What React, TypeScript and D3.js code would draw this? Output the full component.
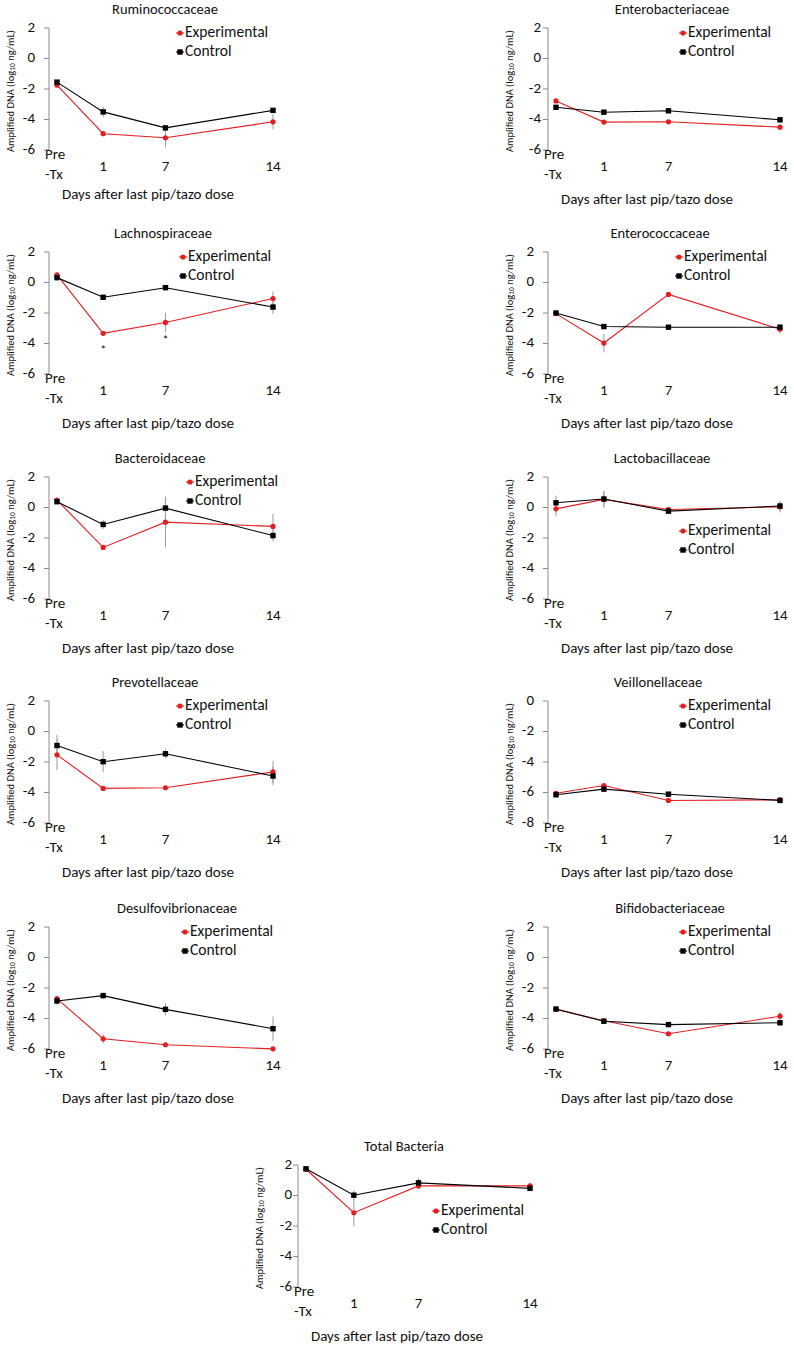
import React from "react";
import * as d3 from "d3";

// ---------- DATA ----------
const timeLabels = ["Pre|-Tx", "1", "7", "14"];
const timePositions = [0, 1, 2.35, 4.68];
const seriesNames = ["Experimental", "Control"];
const xAxisTitle = "Days after last pip/tazo dose";

const ruminoExp = [-1.75, -4.93, -5.2, -4.15];
const ruminoExpErr = [0.1, 0.15, 0.62, 0.5];
const ruminoCtrl = [-1.55, -3.5, -4.55, -3.4];
const ruminoCtrlErr = [0.1, 0.35, 0.1, 0.1];

const enteroExp = [-2.78, -4.17, -4.15, -4.5];
const enteroExpErr = [0.05, 0.05, 0.05, 0.05];
const enteroCtrl = [-3.2, -3.52, -3.43, -4.02];
const enteroCtrlErr = [0.05, 0.05, 0.15, 0.05];

const lachnoExp = [0.5, -3.33, -2.62, -1.05];
const lachnoExpErr = [0.15, 0.15, 0.63, 0.47];
const lachnoCtrl = [0.32, -0.97, -0.34, -1.61];
const lachnoCtrlErr = [0.2, 0.1, 0.05, 0.45];
const lachnoSignificant = [false, true, true, false];

const enterococExp = [-2.04, -3.97, -0.78, -3.06];
const enterococExpErr = [0.1, 0.6, 0.05, 0.3];
const enterococCtrl = [-2.0, -2.89, -2.93, -2.93];
const enterococCtrlErr = [0.1, 0.05, 0.05, 0.2];

const bacteroExp = [0.49, -2.62, -0.96, -1.24];
const bacteroExpErr = [0.1, 0.05, 1.65, 0.82];
const bacteroCtrl = [0.38, -1.11, -0.04, -1.84];
const bacteroCtrlErr = [0.1, 0.3, 0.75, 0.4];

const lactoExp = [-0.09, 0.53, -0.13, 0.04];
const lactoExpErr = [0.5, 0.55, 0.1, 0.35];
const lactoCtrl = [0.31, 0.56, -0.24, 0.1];
const lactoCtrlErr = [0.47, 0.5, 0.1, 0.3];

const prevoExp = [-1.53, -3.73, -3.69, -2.65];
const prevoExpErr = [1.0, 0.05, 0.05, 0.72];
const prevoCtrl = [-0.92, -1.98, -1.46, -2.92];
const prevoCtrlErr = [0.7, 0.7, 0.3, 0.6];

const veillonExp = [-6.05, -5.54, -6.52, -6.48];
const veillonExpErr = [0.1, 0.1, 0.1, 0.1];
const veillonCtrl = [-6.15, -5.78, -6.11, -6.52];
const veillonCtrlErr = [0.05, 0.1, 0.05, 0.1];

const desulfoExp = [-2.7, -5.33, -5.72, -5.99];
const desulfoExpErr = [0.15, 0.3, 0.05, 0.05];
const desulfoCtrl = [-2.85, -2.5, -3.4, -4.67];
const desulfoCtrlErr = [0.25, 0.2, 0.4, 0.8];

const bifidoExp = [-3.4, -4.15, -5.0, -3.85];
const bifidoExpErr = [0.05, 0.05, 0.1, 0.3];
const bifidoCtrl = [-3.38, -4.18, -4.4, -4.28];
const bifidoCtrlErr = [0.05, 0.05, 0.05, 0.05];

const totalExp = [1.72, -1.13, 0.63, 0.63];
const totalExpErr = [0.1, 0.9, 0.2, 0.2];
const totalCtrl = [1.75, 0.02, 0.83, 0.47];
const totalCtrlErr = [0.1, 0.3, 0.3, 0.1];

// ---------- LAYOUT ----------
const FONT = "Carlito, Calibri, Lato, 'Open Sans', sans-serif";
const RED = "#e41e20";
const PLOT_H = 122;
const ROWS = [28, 252, 477, 701, 927];
const LEFT_AXIS = 49;
const RIGHT_AXIS = 548;

type Panel = {
  name: string;
  exp: number[];
  expErr: number[];
  ctrl: number[];
  ctrlErr: number[];
  stars?: boolean[];
  yDomain: [number, number];
  axisX: number;
  top: number;
  width: number;
  titleX: number;
  legendX: number;
  legendDy: number;
  tickGap: number;
  xTitleDy: number;
};

const base = (col: number, row: number) => ({
  yDomain: [-6, 2] as [number, number],
  axisX: col === 0 ? LEFT_AXIS : RIGHT_AXIS,
  top: ROWS[row],
  width: col === 0 ? 216 : 224,
  legendDy: 5,
  tickGap: 14,
  xTitleDy: 172,
});

const panels: Panel[] = [
  { ...base(0, 0), name: "Ruminococcaceae", exp: ruminoExp, expErr: ruminoExpErr, ctrl: ruminoCtrl, ctrlErr: ruminoCtrlErr, titleX: 165, legendX: 180, xTitleDy: 167 },
  { ...base(1, 0), name: "Enterobacteriaceae", exp: enteroExp, expErr: enteroExpErr, ctrl: enteroCtrl, ctrlErr: enteroCtrlErr, titleX: 672, legendX: 683, tickGap: 7 },
  { ...base(0, 1), name: "Lachnospiraceae", exp: lachnoExp, expErr: lachnoExpErr, ctrl: lachnoCtrl, ctrlErr: lachnoCtrlErr, stars: lachnoSignificant, titleX: 163, legendX: 183 },
  { ...base(1, 1), name: "Enterococcaceae", exp: enterococExp, expErr: enterococExpErr, ctrl: enterococCtrl, ctrlErr: enterococCtrlErr, titleX: 660, legendX: 679 },
  { ...base(0, 2), name: "Bacteroidaceae", exp: bacteroExp, expErr: bacteroExpErr, ctrl: bacteroCtrl, ctrlErr: bacteroCtrlErr, titleX: 160, legendX: 190 },
  { ...base(1, 2), name: "Lactobacillaceae", exp: lactoExp, expErr: lactoExpErr, ctrl: lactoCtrl, ctrlErr: lactoCtrlErr, titleX: 662, legendX: 683, legendDy: 54 },
  { ...base(0, 3), name: "Prevotellaceae", exp: prevoExp, expErr: prevoExpErr, ctrl: prevoCtrl, ctrlErr: prevoCtrlErr, titleX: 155, legendX: 180 },
  { ...base(1, 3), name: "Veillonellaceae", exp: veillonExp, expErr: veillonExpErr, ctrl: veillonCtrl, ctrlErr: veillonCtrlErr, yDomain: [-8, 0], titleX: 658, legendX: 683 },
  { ...base(0, 4), name: "Desulfovibrionaceae", exp: desulfoExp, expErr: desulfoExpErr, ctrl: desulfoCtrl, ctrlErr: desulfoCtrlErr, titleX: 177, legendX: 185 },
  { ...base(1, 4), name: "Bifidobacteriaceae", exp: bifidoExp, expErr: bifidoExpErr, ctrl: bifidoCtrl, ctrlErr: bifidoCtrlErr, titleX: 670, legendX: 683 },
  { ...base(1, 0), name: "Total Bacteria", exp: totalExp, expErr: totalExpErr, ctrl: totalCtrl, ctrlErr: totalCtrlErr, axisX: 298, top: 1165, titleX: 404, legendX: 436, legendDy: 46, tickGap: 6 },
];

function ChartPanel({ p }: { p: Panel }) {
  const y = d3.scaleLinear().domain(p.yDomain).range([p.top + PLOT_H, p.top]);
  const x = d3
    .scaleLinear()
    .domain([timePositions[0], timePositions[timePositions.length - 1]])
    .range([p.axisX + 8, p.axisX + 8 + p.width]);
  const ticks = d3.range(p.yDomain[0], p.yDomain[1] + 0.001, 2);
  const line = d3
    .line<number>()
    .x((_, i) => x(timePositions[i]))
    .y((d) => y(d));
  const series = [
    { name: seriesNames[0], vals: p.exp, err: p.expErr, color: RED, shape: "circle" },
    { name: seriesNames[1], vals: p.ctrl, err: p.ctrlErr, color: "#000", shape: "square" },
  ];
  const midY = (y(p.yDomain[0]) + y(p.yDomain[1])) / 2 + 2;
  const ylx = p.axisX - 38;
  return (
    <g fontFamily={FONT}>
      <text x={p.titleX} y={p.top - 17} textAnchor="middle" dominantBaseline="middle" fontSize={14.5} fill="#111">
        {p.name}
      </text>
      {/* y axis */}
      <line x1={p.axisX} x2={p.axisX} y1={y(p.yDomain[0])} y2={y(p.yDomain[1])} stroke="#8a8a8a" strokeWidth={1} />
      {ticks.map((t) => (
        <g key={t}>
          <line x1={p.axisX - 5} x2={p.axisX} y1={y(t)} y2={y(t)} stroke="#8a8a8a" strokeWidth={1} />
          <text x={p.axisX - p.tickGap} y={y(t)} textAnchor="end" dominantBaseline="middle" fontSize={15} fill="#111">
            {t}
          </text>
        </g>
      ))}
      <text
        transform={`translate(${ylx},${midY}) rotate(-90)`}
        textAnchor="middle"
        dominantBaseline="middle"
        fontSize={10.5}
        fill="#111"
      >
        Amplified DNA (log<tspan fontSize={7.5} dy={2}>10</tspan>
        <tspan dy={-2}> ng/mL)</tspan>
      </text>
      {/* x tick labels */}
      {timeLabels.map((lab, i) => {
        if (lab.includes("|")) {
          const [a, b] = lab.split("|");
          return (
            <g key={lab}>
              <text x={p.axisX - 4} y={p.top + 127} dominantBaseline="middle" fontSize={15} fill="#111">
                {a}
              </text>
              <text x={p.axisX - 4} y={p.top + 147} dominantBaseline="middle" fontSize={15} fill="#111">
                {b}
              </text>
            </g>
          );
        }
        return (
          <text key={lab} x={x(timePositions[i])} y={p.top + 139} textAnchor="middle" dominantBaseline="middle" fontSize={15} fill="#111">
            {lab}
          </text>
        );
      })}
      <text x={p.axisX + 99} y={p.top + p.xTitleDy} textAnchor="middle" dominantBaseline="middle" fontSize={15} fill="#111">
        {xAxisTitle}
      </text>
      {/* error bars */}
      {series.map((s) =>
        s.vals.map((v, i) => (
          <line
            key={s.name + i}
            x1={x(timePositions[i])}
            x2={x(timePositions[i])}
            y1={y(v - s.err[i])}
            y2={y(v + s.err[i])}
            stroke="#9a9a9a"
            strokeWidth={1}
          />
        ))
      )}
      {/* lines and markers */}
      {series.map((s) => (
        <g key={s.name}>
          <path d={line(s.vals) || ""} fill="none" stroke={s.color} strokeWidth={1.1} />
          {s.vals.map((v, i) =>
            s.shape === "circle" ? (
              <circle key={i} cx={x(timePositions[i])} cy={y(v)} r={2.6} fill={s.color} />
            ) : (
              <rect key={i} x={x(timePositions[i]) - 2.7} y={y(v) - 2.7} width={5.4} height={5.4} fill={s.color} />
            )
          )}
        </g>
      ))}
      {/* significance */}
      {p.stars &&
        p.stars.map((st, i) =>
          st ? (
            <text key={i} x={x(timePositions[i])} y={y(p.exp[i]) + 18} textAnchor="middle" dominantBaseline="middle" fontSize={13} fill="#222">
              *
            </text>
          ) : null
        )}
      {/* legend */}
      {series.map((s, k) => {
        const ly = p.top + p.legendDy + k * 19;
        return (
          <g key={"lg" + s.name}>
            <line x1={p.legendX - 4} x2={p.legendX + 4} y1={ly} y2={ly} stroke={s.color} strokeWidth={1.1} />
            {s.shape === "circle" ? (
              <circle cx={p.legendX} cy={ly} r={2.6} fill={s.color} />
            ) : (
              <rect x={p.legendX - 2.7} y={ly - 2.7} width={5.4} height={5.4} fill={s.color} />
            )}
            <text x={p.legendX + 5} y={ly} dominantBaseline="middle" fontSize={15.5} fill="#111">
              {s.name}
            </text>
          </g>
        );
      })}
    </g>
  );
}

export default function App() {
  return (
    <svg
      width={794}
      height={1349}
      viewBox="0 0 794 1349"
      style={{ position: "absolute", left: 0, top: 0, background: "#fff" }}
    >
      <rect width={794} height={1349} fill="#fff" />
      {panels.map((p) => (
        <ChartPanel key={p.name} p={p} />
      ))}
    </svg>
  );
}
